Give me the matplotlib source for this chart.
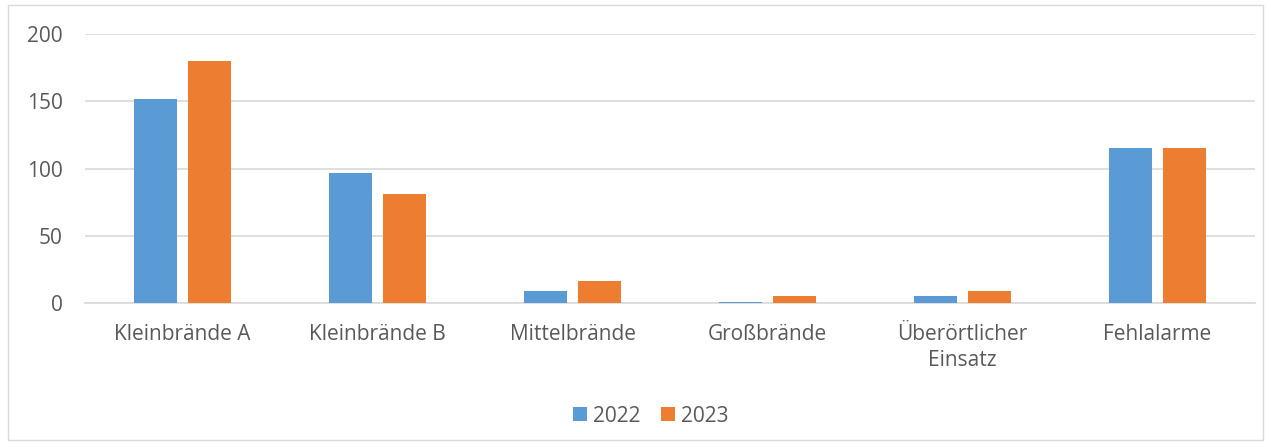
import numpy as np
import matplotlib.pyplot as plt
from matplotlib.patches import Rectangle

categories = ["Kleinbrände A", "Kleinbrände B", "Mittelbrände", "Großbrände",
              "Überörtlicher\nEinsatz", "Fehlalarme"]
values_2022 = [152, 97, 9, 1, 5, 115]
values_2023 = [180, 81, 16, 5, 9, 115]
series_labels = ["2022", "2023"]

plt.rcParams['font.family'] = ['Open Sans', 'DejaVu Sans']
text_color = "#595959"
grid_color = "#d9d9d9"
fs = 15

fig = plt.figure(figsize=(12.71, 4.48), dpi=100)
fig.patches.append(Rectangle((8 / 1271, 1 - 440 / 448), 1255 / 1271, 435 / 448,
                             transform=fig.transFigure, fill=False,
                             edgecolor=grid_color, linewidth=1))
ax = fig.add_axes([85 / 1271, 1 - 303 / 448, 1170 / 1271, 269 / 448])

x = np.arange(len(categories))
w = 0.22
ax.bar(x - 0.14, values_2022, w, color="#5B9BD5", label=series_labels[0], zorder=3)
ax.bar(x + 0.14, values_2023, w, color="#ED7D31", label=series_labels[1], zorder=3)

ax.set_xlim(-0.5, len(categories) - 0.5)
ax.set_ylim(0, 200)
ax.set_yticks([0, 50, 100, 150, 200])
ax.yaxis.grid(True, color=grid_color, linewidth=1.2, zorder=0)
ax.set_xticks(x)
ax.set_xticklabels(categories, fontsize=fs, color=text_color, linespacing=1.3)
ax.tick_params(axis="y", labelsize=fs, labelcolor=text_color, length=0, pad=16)
ax.tick_params(axis="x", length=0, pad=15)
for s in ["top", "right", "left"]:
    ax.spines[s].set_visible(False)
ax.spines["bottom"].set_color(grid_color)
ax.spines["bottom"].set_linewidth(1.2)

fig.legend(loc="center", bbox_to_anchor=(651 / 1271, 1 - 416 / 448), ncol=2,
           frameon=False, fontsize=fs, labelcolor=text_color,
           handlelength=0.65, handleheight=0.65, handletextpad=0.3, columnspacing=1.0)

fig.savefig("out.png", dpi=100)
